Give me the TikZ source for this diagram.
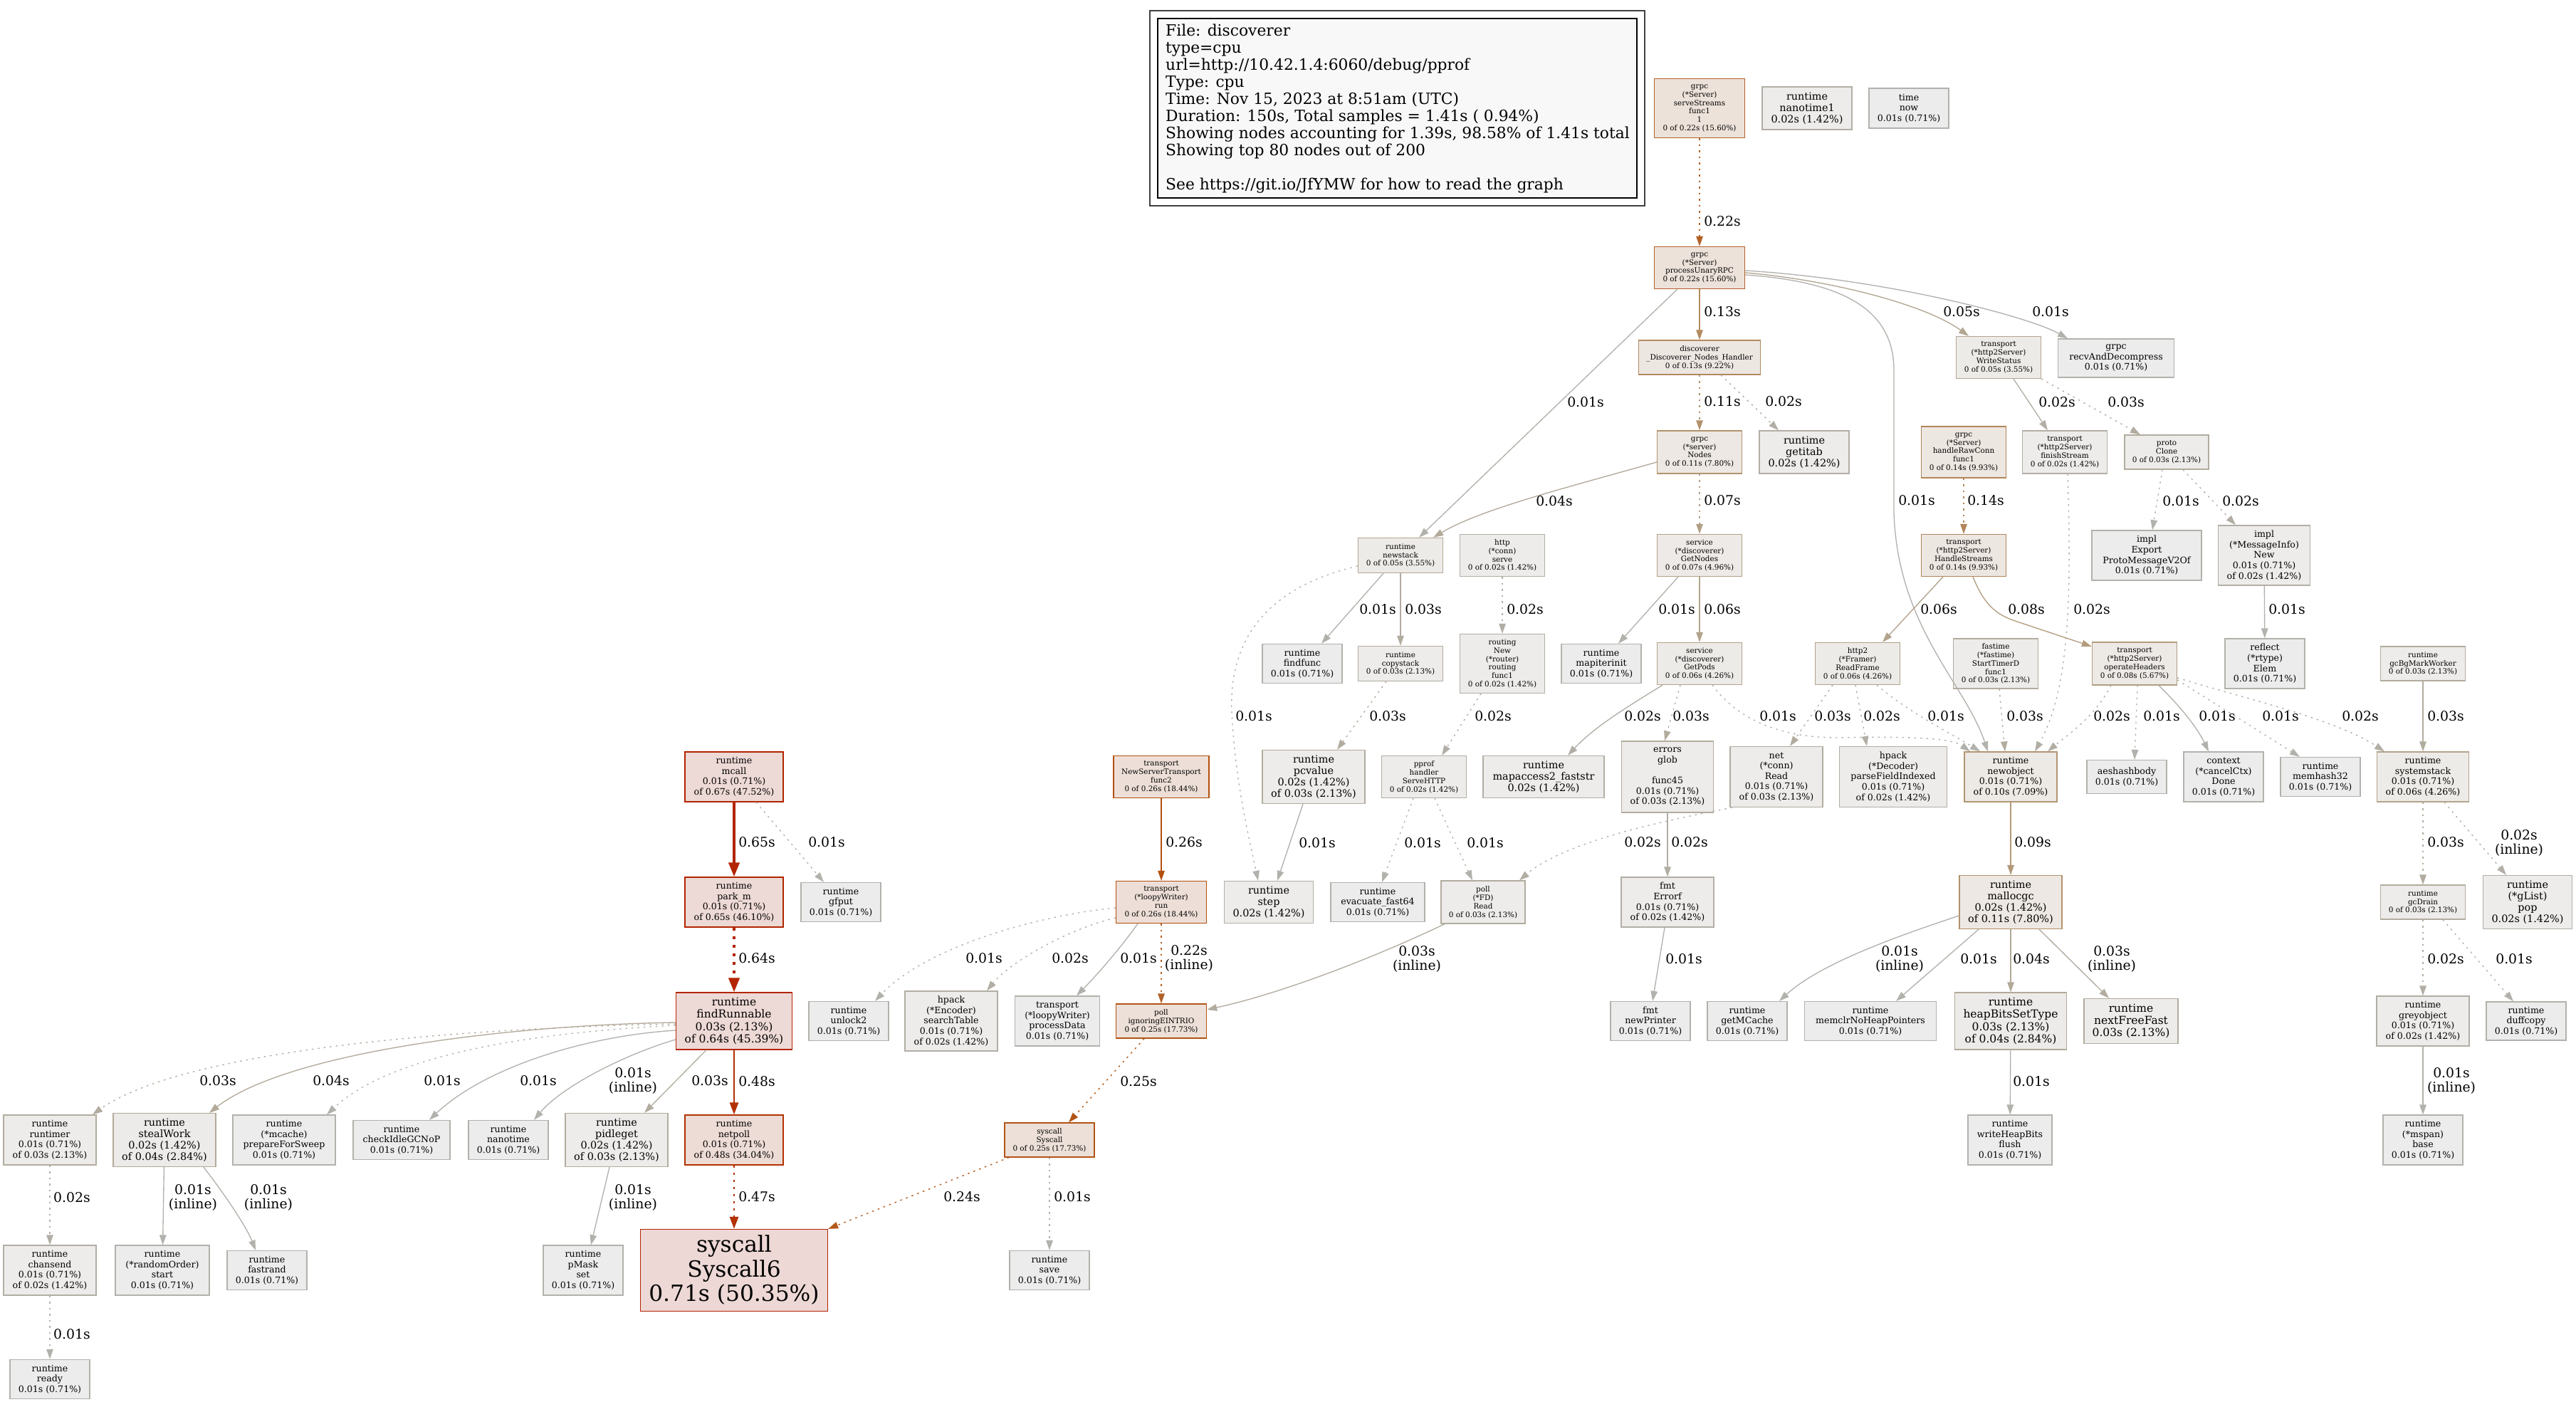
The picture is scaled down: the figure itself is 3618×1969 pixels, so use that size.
\documentclass[tikz,border=0pt]{standalone}
\usepackage{fontspec}
\setmainfont{DejaVu Serif}
\usetikzlibrary{arrows.meta}
% edge / border colours
\definecolor{c01}{HTML}{B2B1AC}\definecolor{c02}{HTML}{B2AEA5}\definecolor{c03}{HTML}{B2AC9F}
\definecolor{c04}{HTML}{B2A999}\definecolor{c05}{HTML}{B2A692}\definecolor{c06}{HTML}{B2A38C}
\definecolor{c07}{HTML}{B2A086}\definecolor{c08}{HTML}{B29D7F}\definecolor{c09}{HTML}{B29979}
\definecolor{c10}{HTML}{B29573}\definecolor{c11}{HTML}{B2926C}\definecolor{c13}{HTML}{B28A60}
\definecolor{c14}{HTML}{B28659}\definecolor{c22}{HTML}{B26227}\definecolor{c24}{HTML}{B2591A}
\definecolor{c25}{HTML}{B25414}\definecolor{c26}{HTML}{B24F0D}\definecolor{c47}{HTML}{B23200}
\definecolor{c48}{HTML}{B23100}\definecolor{c64}{HTML}{B22500}\definecolor{c65}{HTML}{B22400}
\definecolor{c67}{HTML}{B22300}\definecolor{c71}{HTML}{B22100}
% fill colours
\definecolor{f01}{HTML}{EDECEC}\definecolor{f02}{HTML}{EDECEB}\definecolor{f03}{HTML}{EDECEA}
\definecolor{f04}{HTML}{EDEBE9}\definecolor{f05}{HTML}{EDEBE8}\definecolor{f06}{HTML}{EDEBE8}
\definecolor{f07}{HTML}{EDEAE7}\definecolor{f08}{HTML}{EDEAE6}\definecolor{f10}{HTML}{EDE9E4}
\definecolor{f11}{HTML}{EDE8E3}\definecolor{f13}{HTML}{EDE7E2}\definecolor{f14}{HTML}{EDE7E1}
\definecolor{f22}{HTML}{EDE2DA}\definecolor{f25}{HTML}{EDE0D8}\definecolor{f26}{HTML}{EDDFD7}
\definecolor{f48}{HTML}{EDDBD5}\definecolor{f64}{HTML}{EDD9D5}\definecolor{f71}{HTML}{EDD8D5}
\definecolor{legfill}{HTML}{F8F8F8}
\tikzset{
  nd/.style={draw, rectangle, inner sep=0pt, align=center, line width=1.3pt},
  sz/.style 2 args={minimum width=#1pt, minimum height=#2pt},
  k01/.style={draw=c01, fill=f01}, k02/.style={draw=c02, fill=f02},
  k03/.style={draw=c03, fill=f03}, k04/.style={draw=c04, fill=f04},
  k05/.style={draw=c05, fill=f05}, k06/.style={draw=c06, fill=f06},
  k07/.style={draw=c07, fill=f07}, k08/.style={draw=c08, fill=f08},
  k10/.style={draw=c10, fill=f10}, k11/.style={draw=c11, fill=f11},
  k13/.style={draw=c13, fill=f13}, k14/.style={draw=c14, fill=f14},
  k22/.style={draw=c22, fill=f22}, k25/.style={draw=c25, fill=f25},
  k26/.style={draw=c26, fill=f26}, k48/.style={draw=c48, fill=f48},
  k64/.style={draw=c64, fill=f64}, k65/.style={draw=c65, fill=f64},
  k67/.style={draw=c67, fill=f64}, k71/.style={draw=c71, fill=f71},
  fs0/.style={font=\fontsize{10.4}{11.9}\selectfont},
  fs1/.style={font=\fontsize{12.6}{14.6}\selectfont},
  fs2/.style={font=\fontsize{14.4}{16.1}\selectfont},
  fs3/.style={font=\fontsize{15.5}{17.3}\selectfont},
  fsB/.style={font=\fontsize{31.3}{34.5}\selectfont},
  ed/.style={line width=1.33pt, -{Triangle[length=14pt,width=9.5pt]}},
  e2/.style={line width=2.67pt, -{Triangle[length=17pt,width=12pt]}},
  e3/.style={line width=4pt, -{Triangle[length=20pt,width=15pt]}},
  dotl/.style={dash pattern=on 2.5pt off 6pt},
  dotl2/.style={dash pattern=on 3pt off 7pt},
  dotb/.style={dash pattern=on 4pt off 8pt},
  elab/.style={font=\fontsize{18.8}{20.5}\selectfont, text=black, inner sep=0pt, align=center},
  legl/.style={font=\fontsize{21.8}{24}\selectfont, anchor=base west, inner sep=0pt}
}
\begin{document}
\begin{tikzpicture}[x=1pt, y=-1pt]
\fill[white] (0,0) rectangle (3618,1969);
\useasboundingbox (0,0) rectangle (3618,1969);
% legend
\draw[line width=1.3pt, black!75] (1615,15) rectangle (2310,289);
\draw[line width=1.3pt, black, fill=legfill] (1626,26) rectangle (2299,278);
\node[legl] (lg1) at (1637,50.5) {File: discoverer};
\node[legl] (lg2) at (1637,74.5) {type=cpu};
\node[legl] (lg3) at (1637,98.5) {url=http://10.42.1.4:6060/debug/pprof};
\node[legl] (lg4) at (1637,122.5) {Type: cpu};
\node[legl] (lg5) at (1637,146.5) {Time: Nov 15, 2023 at 8:51am (UTC)};
\node[legl] (lg6) at (1637,170.5) {Duration: 150s, Total samples = 1.41s ( 0.94\%)};
\node[legl] (lg7) at (1637,194.5) {Showing nodes accounting for 1.39s, 98.58\% of 1.41s total};
\node[legl] (lg8) at (1637,218.5) {Showing top 80 nodes out of 200};
\node[legl] (lg9) at (1637,266.5) {See https://git.io/JfYMW for how to read the graph};
% nodes
\node[nd,k22,fs0,sz={127}{83}] (ss) at (2387,152) {grpc\\(*Server)\\serveStreams\\func1\\1\\0 of 0.22s (15.60\%)};
\node[nd,k02,fs2,sz={126}{60}] (nt1) at (2538,152) {runtime\\nanotime1\\0.02s (1.42\%)};
\node[nd,k01,fs1,sz={112}{56}] (tnow) at (2681,152) {time\\now\\0.01s (0.71\%)};
\node[nd,k22,fs0,sz={127}{59}] (pu) at (2387,376) {grpc\\(*Server)\\processUnaryRPC\\0 of 0.22s (15.60\%)};
\node[nd,k13,fs0,sz={171}{48}] (dh) at (2387,502) {discoverer\\\_Discoverer\_Nodes\_Handler\\0 of 0.13s (9.22\%)};
\node[nd,k11,fs0,sz={119}{60}] (gn) at (2387,635) {grpc\\(*server)\\Nodes\\0 of 0.11s (7.80\%)};
\node[nd,k02,fs2,sz={126}{60}] (gi) at (2534,635) {runtime\\getitab\\0.02s (1.42\%)};
\node[nd,k05,fs0,sz={119}{59}] (ws) at (2807,502) {transport\\(*http2Server)\\WriteStatus\\0 of 0.05s (3.55\%)};
\node[nd,k01,fs1,sz={163}{54}] (rd) at (2972,503) {grpc\\recvAndDecompress\\0.01s (0.71\%)};
\node[nd,k14,fs0,sz={119}{72}] (hrc) at (2758,635) {grpc\\(*Server)\\handleRawConn\\func1\\0 of 0.14s (9.93\%)};
\node[nd,k02,fs0,sz={119}{60}] (fs) at (2900,635) {transport\\(*http2Server)\\finishStream\\0 of 0.02s (1.42\%)};
\node[nd,k03,fs0,sz={118}{48}] (pc) at (3043,635) {proto\\Clone\\0 of 0.03s (2.13\%)};
\node[nd,k01,fs1,sz={154}{70}] (ie) at (3015,780) {impl\\Export\\ProtoMessageV2Of\\0.01s (0.71\%)};
\node[nd,k02,fs1,sz={129}{84}] (imn) at (3180,780) {impl\\(*MessageInfo)\\New\\0.01s (0.71\%)\\of 0.02s (1.42\%)};
\node[nd,k01,fs1,sz={112}{70}] (re) at (3181,932) {reflect\\(*rtype)\\Elem\\0.01s (0.71\%)};
\node[nd,k03,fs0,sz={119}{48}] (gbm) at (3403,932) {runtime\\gcBgMarkWorker\\0 of 0.03s (2.13\%)};
\node[nd,k08,fs0,sz={119}{60}] (oh) at (2998,932) {transport\\(*http2Server)\\operateHeaders\\0 of 0.08s (5.67\%)};
\node[nd,k05,fs0,sz={119}{49}] (ns) at (1967,780) {runtime\\newstack\\0 of 0.05s (3.55\%)};
\node[nd,k02,fs0,sz={119}{59}] (hs) at (2110,780) {http\\(*conn)\\serve\\0 of 0.02s (1.42\%)};
\node[nd,k07,fs0,sz={119}{59}] (gnd) at (2387,780) {service\\(*discoverer)\\GetNodes\\0 of 0.07s (4.96\%)};
\node[nd,k14,fs0,sz={119}{59}] (hst) at (2758,780) {transport\\(*http2Server)\\HandleStreams\\0 of 0.14s (9.93\%)};
\node[nd,k01,fs1,sz={112}{55}] (ff) at (1829,932) {runtime\\findfunc\\0.01s (0.71\%)};
\node[nd,k03,fs0,sz={119}{49}] (cs) at (1967,932) {runtime\\copystack\\0 of 0.03s (2.13\%)};
\node[nd,k02,fs0,sz={119}{83}] (rt) at (2110,932) {routing\\New\\(*router)\\routing\\func1\\0 of 0.02s (1.42\%)};
\node[nd,k01,fs1,sz={112}{55}] (mi) at (2249,932) {runtime\\mapiterinit\\0.01s (0.71\%)};
\node[nd,k06,fs0,sz={119}{59}] (gp) at (2387,932) {service\\(*discoverer)\\GetPods\\0 of 0.06s (4.26\%)};
\node[nd,k06,fs0,sz={119}{59}] (rf) at (2609,932) {http2\\(*Framer)\\ReadFrame\\0 of 0.06s (4.26\%)};
\node[nd,k03,fs0,sz={119}{70}] (ft) at (2803,932) {fastime\\(*fastime)\\StartTimerD\\func1\\0 of 0.03s (2.13\%)};
\node[nd,k03,fs2,sz={144}{75}] (pcv) at (1845,1091) {runtime\\pcvalue\\0.02s (1.42\%)\\of 0.03s (2.13\%)};
\node[nd,k02,fs0,sz={119}{59}] (pp) at (2000,1091) {pprof\\handler\\ServeHTTP\\0 of 0.02s (1.42\%)};
\node[nd,k02,fs2,sz={170}{59}] (ma) at (2168,1091) {runtime\\mapaccess2\_faststr\\0.02s (1.42\%)};
\node[nd,k03,fs1,sz={129}{100}] (eg) at (2342,1091) {errors\\glob\\\mbox{}\\func45\\0.01s (0.71\%)\\of 0.03s (2.13\%)};
\node[nd,k03,fs1,sz={130}{85}] (nr) at (2495,1091) {net\\(*conn)\\Read\\0.01s (0.71\%)\\of 0.03s (2.13\%)};
\node[nd,k02,fs1,sz={151}{85}] (hp) at (2659,1091) {hpack\\(*Decoder)\\parseFieldIndexed\\0.01s (0.71\%)\\of 0.02s (1.42\%)};
\node[nd,k10,fs1,sz={130}{70}] (no) at (2824,1091) {runtime\\newobject\\0.01s (0.71\%)\\of 0.10s (7.09\%)};
\node[nd,k01,fs1,sz={112}{47}] (ah) at (2987,1091) {aeshashbody\\0.01s (0.71\%)};
\node[nd,k01,fs1,sz={112}{70}] (cd) at (3123,1091) {context\\(*cancelCtx)\\Done\\0.01s (0.71\%)};
\node[nd,k01,fs1,sz={112}{55}] (mh) at (3259,1091) {runtime\\memhash32\\0.01s (0.71\%)};
\node[nd,k06,fs1,sz={129}{70}] (sst) at (3403,1091) {runtime\\systemstack\\0.01s (0.71\%)\\of 0.06s (4.26\%)};
\node[nd,k67,fs1,sz={138}{70}] (mc) at (1031,1091) {runtime\\mcall\\0.01s (0.71\%)\\of 0.67s (47.52\%)};
\node[nd,k26,fs0,sz={134}{59}] (nst) at (1631,1091) {transport\\NewServerTransport\\func2\\0 of 0.26s (18.44\%)};
\node[nd,k65,fs1,sz={138}{70}] (pm) at (1031,1267) {runtime\\park\_m\\0.01s (0.71\%)\\of 0.65s (46.10\%)};
\node[nd,k01,fs1,sz={112}{55}] (gf) at (1181,1267) {runtime\\gfput\\0.01s (0.71\%)};
\node[nd,k26,fs0,sz={127}{59}] (lr) at (1631,1267) {transport\\(*loopyWriter)\\run\\0 of 0.26s (18.44\%)};
\node[nd,k02,fs2,sz={125}{59}] (st) at (1782,1267) {runtime\\step\\0.02s (1.42\%)};
\node[nd,k01,fs1,sz={132}{55}] (ev) at (1935,1267) {runtime\\evacuate\_fast64\\0.01s (0.71\%)};
\node[nd,k03,fs0,sz={118}{60}] (pr) at (2083,1267) {poll\\(*FD)\\Read\\0 of 0.03s (2.13\%)};
\node[nd,k02,fs1,sz={130}{70}] (fe) at (2342,1267) {fmt\\Errorf\\0.01s (0.71\%)\\of 0.02s (1.42\%)};
\node[nd,k11,fs2,sz={144}{75}] (mg) at (2824,1267) {runtime\\mallocgc\\0.02s (1.42\%)\\of 0.11s (7.80\%)};
\node[nd,k03,fs0,sz={119}{48}] (gd) at (3403,1267) {runtime\\gcDrain\\0 of 0.03s (2.13\%)};
\node[nd,k02,fs2,sz={125}{75}] (gl) at (3550,1267) {runtime\\(*gList)\\pop\\0.02s (1.42\%)};
\node[nd,k64,fs3,sz={163}{80}] (fr) at (1031,1434) {runtime\\findRunnable\\0.03s (2.13\%)\\of 0.64s (45.39\%)};
\node[nd,k01,fs1,sz={112}{55}] (ul) at (1192,1434) {runtime\\unlock2\\0.01s (0.71\%)};
\node[nd,k02,fs1,sz={130}{84}] (hst2) at (1336,1434) {hpack\\(*Encoder)\\searchTable\\0.01s (0.71\%)\\of 0.02s (1.42\%)};
\node[nd,k01,fs1,sz={119}{70}] (pd) at (1485,1434) {transport\\(*loopyWriter)\\processData\\0.01s (0.71\%)};
\node[nd,k25,fs0,sz={127}{48}] (ei) at (1631,1434) {poll\\ignoringEINTRIO\\0 of 0.25s (17.73\%)};
\node[nd,k01,fs1,sz={112}{55}] (np) at (2318,1434) {fmt\\newPrinter\\0.01s (0.71\%)};
\node[nd,k01,fs1,sz={112}{55}] (gm) at (2454,1434) {runtime\\getMCache\\0.01s (0.71\%)};
\node[nd,k01,fs1,sz={185}{55}] (mc2) at (2627,1434) {runtime\\memclrNoHeapPointers\\0.01s (0.71\%)};
\node[nd,k04,fs3,sz={157}{80}] (hb) at (2824,1434) {runtime\\heapBitsSetType\\0.03s (2.13\%)\\of 0.04s (2.84\%)};
\node[nd,k03,fs3,sz={132}{63}] (nff) at (2993,1434) {runtime\\nextFreeFast\\0.03s (2.13\%)};
\node[nd,k02,fs1,sz={130}{70}] (go) at (3403,1434) {runtime\\greyobject\\0.01s (0.71\%)\\of 0.02s (1.42\%)};
\node[nd,k01,fs1,sz={112}{54}] (dc) at (3548,1434) {runtime\\duffcopy\\0.01s (0.71\%)};
\node[nd,k03,fs1,sz={130}{70}] (rtm) at (70,1601) {runtime\\runtimer\\0.01s (0.71\%)\\of 0.03s (2.13\%)};
\node[nd,k04,fs2,sz={144}{75}] (sw) at (231,1601) {runtime\\stealWork\\0.02s (1.42\%)\\of 0.04s (2.84\%)};
\node[nd,k01,fs1,sz={144}{70}] (pfs) at (399,1601) {runtime\\(*mcache)\\prepareForSweep\\0.01s (0.71\%)};
\node[nd,k01,fs1,sz={136}{55}] (cig) at (564,1601) {runtime\\checkIdleGCNoP\\0.01s (0.71\%)};
\node[nd,k01,fs1,sz={112}{55}] (nt) at (714,1601) {runtime\\nanotime\\0.01s (0.71\%)};
\node[nd,k03,fs2,sz={144}{75}] (pg) at (866,1601) {runtime\\pidleget\\0.02s (1.42\%)\\of 0.03s (2.13\%)};
\node[nd,k48,fs1,sz={138}{70}] (npl) at (1031,1601) {runtime\\netpoll\\0.01s (0.71\%)\\of 0.48s (34.04\%)};
\node[nd,k25,fs0,sz={126}{48}] (sc) at (1474,1601) {syscall\\Syscall\\0 of 0.25s (17.73\%)};
\node[nd,k01,fs1,sz={118}{70}] (whb) at (2823,1601) {runtime\\writeHeapBits\\flush\\0.01s (0.71\%)};
\node[nd,k01,fs1,sz={112}{70}] (mb) at (3403,1601) {runtime\\(*mspan)\\base\\0.01s (0.71\%)};
\node[nd,k02,fs1,sz={130}{70}] (chs) at (70,1784) {runtime\\chansend\\0.01s (0.71\%)\\of 0.02s (1.42\%)};
\node[nd,k01,fs1,sz={132}{70}] (ro) at (228,1784) {runtime\\(*randomOrder)\\start\\0.01s (0.71\%)};
\node[nd,k01,fs1,sz={112}{55}] (fr2) at (375,1784) {runtime\\fastrand\\0.01s (0.71\%)};
\node[nd,k01,fs1,sz={112}{70}] (pms) at (819,1784) {runtime\\pMask\\set\\0.01s (0.71\%)};
\node[nd,k71,fsB,sz={263}{115}] (s6) at (1031,1784) {syscall\\Syscall6\\0.71s (50.35\%)};
\node[nd,k01,fs1,sz={112}{55}] (sv) at (1474,1784) {runtime\\save\\0.01s (0.71\%)};
\node[nd,k01,fs1,sz={112}{55}] (rdy) at (70,1937) {runtime\\ready\\0.01s (0.71\%)};
% edges
\draw[ed,c22,dotl] (ss) -- (pu) node[elab] (l1) at (2419,311) {0.22s};
\draw[ed,c13] (pu) -- (dh) node[elab] (l2) at (2419,438) {0.13s};
\draw[ed,c01] (pu) -- (ns) node[elab] (l3) at (2227,565) {0.01s};
\draw[ed,c05] ([yshift=-7pt]pu.east) .. controls (2560,392) and (2700,425) .. ([xshift=-42pt]ws.north) node[elab] (l4) at (2755,438) {0.05s};
\draw[ed,c01] ([yshift=-4pt]pu.east) .. controls (2650,392) and (2850,445) .. ([xshift=-68pt]rd.north) node[elab] (l5) at (2880,438) {0.01s};
\draw[ed,c01] ([yshift=-10pt]pu.east) .. controls (2580,395) and (2660,430) .. (2660,520) -- (2660,720) .. controls (2665,880) and (2760,960) .. ([xshift=-32pt]no.north) node[elab] (l6) at (2692,703) {0.01s};
\draw[ed,c11,dotl] (dh) -- (gn) node[elab] (l7) at (2419,564) {0.11s};
\draw[ed,c02,dotl] ([xshift=30pt]dh.south) -- ([xshift=-36pt]gi.north) node[elab] (l8) at (2505,564) {0.02s};
\draw[ed,c04] ([yshift=-14pt]gn.west) .. controls (2200,685) and (2080,715) .. ([xshift=46pt]ns.north) node[elab] (l9) at (2183,704) {0.04s};
\draw[ed,c07,dotl] (gn) -- (gnd) node[elab] (l10) at (2419,703) {0.07s};
\draw[ed,c02] ([xshift=21pt]ws.south) -- ([xshift=-24pt]fs.north) node[elab] (l11) at (2889,565) {0.02s};
\draw[ed,c03,dotl] (ws.south east) -- ([xshift=-37pt]pc.north) node[elab] (l12) at (2986,565) {0.03s};
\draw[ed,c02,dotl] ([xshift=4pt]fs.south) .. controls (2910,850) and (2905,970) .. ([xshift=34pt]no.north) node[elab] (l13) at (2938,856) {0.02s};
\draw[ed,c01,dotl] ([xshift=-6pt]pc.south) -- ([xshift=8pt]ie.north) node[elab] (l14) at (3063,704) {0.01s};
\draw[ed,c02,dotl] ([xshift=23pt]pc.south) -- ([xshift=-40pt]imn.north) node[elab] (l15) at (3147,704) {0.02s};
\draw[ed,c01] (imn) -- (re) node[elab] (l16) at (3212,856) {0.01s};
\draw[ed,c14,dotl] (hrc) -- (hst) node[elab] (l17) at (2789,703) {0.14s};
\draw[ed,c06] ([xshift=-29pt]hst.south) -- ([xshift=35pt]rf.north) node[elab] (l18) at (2723,856) {0.06s};
\draw[ed,c08] ([xshift=13pt]hst.south) .. controls (2785,845) and (2800,862) .. (2830,872) -- ([yshift=24pt]oh.west) node[elab] (l19) at (2846,856) {0.08s};
\draw[ed,c01] ([xshift=-30pt]gnd.south) -- ([xshift=24pt]mi.north) node[elab] (l20) at (2355,856) {0.01s};
\draw[ed,c06] (gnd) -- (gp) node[elab] (l21) at (2419,856) {0.06s};
\draw[ed,c01] ([xshift=-24pt]ns.south) -- ([xshift=27pt]ff.north) node[elab] (l22) at (1935,856) {0.01s};
\draw[ed,c03] (ns) -- (cs) node[elab] (l23) at (1999,856) {0.03s};
\draw[ed,c01,dotl] ([yshift=-15pt]ns.west) .. controls (1800,820) and (1725,880) .. (1730,1000) .. controls (1735,1100) and (1755,1180) .. ([xshift=-15pt]st.north) node[elab] (l24) at (1761,1006) {0.01s};
\draw[ed,c02,dotl] (hs) -- (rt) node[elab] (l25) at (2142,856) {0.02s};
\draw[ed,c03,dotl] ([xshift=-20pt]cs.south) -- ([xshift=33pt]pcv.north) node[elab] (l26) at (1949,1006) {0.03s};
\draw[ed,c02,dotl] ([xshift=-30pt]rt.south) -- ([xshift=25pt]pp.north) node[elab] (l27) at (2097,1006) {0.02s};
\draw[ed,c02] ([xshift=-52pt]gp.south) .. controls (2290,990) and (2240,1020) .. ([xshift=34pt]ma.north) node[elab] (l28) at (2307,1006) {0.02s};
\draw[ed,c03,dotl] ([xshift=-27pt]gp.south) -- ([xshift=-4pt]eg.north) node[elab] (l29) at (2375,1006) {0.03s};
\draw[ed,c01,dotl] ([xshift=18pt]gp.south) .. controls (2440,1010) and (2500,1036) .. (2580,1036) .. controls (2680,1034) and (2740,1036) .. ([xshift=-57pt]no.north) node[elab] (l30) at (2497,1006) {0.01s};
\draw[ed,c03,dotl] ([xshift=-35pt]rf.south) -- ([xshift=19pt]nr.north) node[elab] (l31) at (2574,1006) {0.03s};
\draw[ed,c02,dotl] ([xshift=-3pt]rf.south) -- ([xshift=-37pt]hp.north) node[elab] (l32) at (2643,1006) {0.02s};
\draw[ed,c01,dotl] ([xshift=27pt]rf.south) .. controls (2680,1000) and (2740,1030) .. ([xshift=-43pt]no.north) node[elab] (l33) at (2733,1006) {0.01s};
\draw[ed,c03,dotl] ([xshift=5pt]ft.south) -- ([xshift=-8pt]no.north) node[elab] (l34) at (2844,1006) {0.03s};
\draw[ed,c02,dotl] ([xshift=-33pt]oh.south) .. controls (2940,1010) and (2900,1035) .. ([xshift=52pt]no.north) node[elab] (l35) at (2966,1006) {0.02s};
\draw[ed,c01,dotl] ([xshift=4pt]oh.south) -- ([xshift=11pt]ah.north) node[elab] (l36) at (3036,1006) {0.01s};
\draw[ed,c01] ([xshift=34pt]oh.south) .. controls (3060,990) and (3085,1020) .. ([xshift=-21pt]cd.north) node[elab] (l37) at (3114,1006) {0.01s};
\draw[ed,c01,dotl] ([yshift=-23pt]oh.east) -- ([xshift=-29pt]mh.north) node[elab] (l38) at (3203,1006) {0.01s};
\draw[ed,c02,dotl] ([yshift=-20pt]oh.east) .. controls (3150,980) and (3280,1010) .. ([xshift=-54pt]sst.north) node[elab] (l39) at (3315,1006) {0.02s};
\draw[ed,c03] (gbm) -- (sst) node[elab] (l40) at (3435,1006) {0.03s};
\draw[ed,c02,dotl] ([xshift=-62pt]nr.south) .. controls (2350,1150) and (2200,1180) .. ([xshift=51pt]pr.north) node[elab] (l41) at (2307,1183) {0.02s};
\draw[ed,c02] (eg) -- (fe) node[elab] (l42) at (2373,1183) {0.02s};
\draw[ed,c09] (no) -- (mg) node[elab] (l43) at (2855,1183) {0.09s};
\draw[ed,c01,dotl] ([xshift=-15pt]pp.south) -- ([xshift=6pt]ev.north) node[elab] (l44) at (1998,1184) {0.01s};
\draw[ed,c01,dotl] ([xshift=15pt]pp.south) -- ([xshift=-15pt]pr.north) node[elab] (l45) at (2086,1184) {0.01s};
\draw[ed,c01] ([xshift=-15pt]pcv.south) -- ([xshift=12pt]st.north) node[elab] (l46) at (1850,1184) {0.01s};
\draw[ed,c01] ([xshift=-4pt]fe.south) -- ([xshift=3pt]np.north) node[elab] (l47) at (2365,1347) {0.01s};
\draw[ed,c01] ([yshift=-19pt]mg.west) .. controls (2680,1310) and (2560,1350) .. ([xshift=45pt]gm.north) node[elab] (l48) at (2668,1347) {0.01s\\(inline)};
\draw[ed,c01] ([xshift=-45pt]mg.south) -- ([xshift=36pt]mc2.north) node[elab] (l49) at (2779,1347) {0.01s};
\draw[ed,c04] (mg) -- (hb) node[elab] (l50) at (2853,1347) {0.04s};
\draw[ed,c03] ([xshift=40pt]mg.south) -- ([xshift=-31pt]nff.north) node[elab] (l51) at (2966,1347) {0.03s\\(inline)};
\draw[ed,c01] (hb) -- (whb) node[elab] (l52) at (2853,1519) {0.01s};
\draw[ed,c03] ([xshift=-54pt]pr.south) .. controls (1930,1345) and (1800,1395) .. ([yshift=16pt]ei.east) node[elab] (l53) at (1990,1347) {0.03s\\(inline)};
\draw[ed,c03,dotl] (sst) -- (gd) node[elab] (l54) at (3435,1183) {0.03s};
\draw[ed,c02,dotl] ([xshift=30pt]sst.south) -- ([xshift=-30pt]gl.north) node[elab] (l55) at (3538,1184) {0.02s\\(inline)};
\draw[ed,c02,dotl] (gd) -- (go) node[elab] (l56) at (3435,1347) {0.02s};
\draw[ed,c01,dotl] ([xshift=28pt]gd.south) -- ([xshift=-18pt]dc.north) node[elab] (l57) at (3531,1347) {0.01s};
\draw[ed,c01] (go) -- (mb) node[elab] (l58) at (3443,1518) {0.01s\\(inline)};
\draw[e3,c65] (mc) -- (pm) node[elab] (l59) at (1063,1183) {0.65s};
\draw[ed,c01,dotl] ([xshift=31pt]mc.south) -- ([xshift=-24pt]gf.north) node[elab] (l60) at (1161,1183) {0.01s};
\draw[ed,c26] (nst) -- (lr) node[elab] (l61) at (1663,1183) {0.26s};
\draw[e3,c64,dotb] (pm) -- (fr) node[elab] (l62) at (1063,1346) {0.64s};
\draw[ed,c01,dotl] ([yshift=-8pt]lr.west) .. controls (1460,1285) and (1300,1330) .. ([xshift=37pt]ul.north) node[elab] (l63) at (1382,1346) {0.01s};
\draw[ed,c02,dotl] ([yshift=-22pt]lr.west) .. controls (1500,1305) and (1420,1350) .. ([xshift=50pt]hst2.north) node[elab] (l64) at (1503,1346) {0.02s};
\draw[ed,c01] ([xshift=-33pt]lr.south) .. controls (1575,1330) and (1540,1370) .. ([xshift=27pt]pd.north) node[elab] (l65) at (1599,1346) {0.01s};
\draw[ed,c22,dotl] (lr) -- (ei) node[elab] (l66) at (1670,1346) {0.22s\\(inline)};
\draw[ed,c25,dotl] ([xshift=-24pt]ei.south) -- ([xshift=27pt]sc.north) node[elab] (l67) at (1599,1519) {0.25s};
\draw[e2,c48] (fr) -- (npl) node[elab] (l68) at (1063,1519) {0.48s};
\draw[e2,c47,dotl2] (npl) -- (s6) node[elab] (l69) at (1063,1681) {0.47s};
\draw[ed,c24,dotl] ([xshift=-57pt]sc.south) -- (s6.north east) node[elab] (l70) at (1351,1681) {0.24s};
\draw[ed,c01,dotl] (sc) -- (sv) node[elab] (l71) at (1506,1681) {0.01s};
\draw[ed,c03] ([xshift=-39pt]fr.south) -- ([xshift=39pt]pg.north) node[elab] (l72) at (997,1518) {0.03s};
\draw[ed,c03,dotl] ([yshift=-4pt]fr.west) .. controls (600,1445) and (250,1480) .. ([xshift=60pt]rtm.north) node[elab] (l73) at (306,1518) {0.03s};
\draw[ed,c04] ([yshift=-2pt]fr.west) .. controls (700,1440) and (400,1480) .. ([xshift=63pt]sw.north) node[elab] (l74) at (465,1518) {0.04s};
\draw[ed,c01,dotl] ([yshift=-6pt]fr.west) .. controls (750,1450) and (550,1480) .. ([xshift=60pt]pfs.north) node[elab] (l75) at (621,1518) {0.01s};
\draw[ed,c01] ([yshift=-13pt]fr.west) .. controls (820,1455) and (680,1500) .. ([xshift=39pt]cig.north) node[elab] (l76) at (756,1518) {0.01s};
\draw[ed,c01] ([yshift=-26pt]fr.west) .. controls (880,1480) and (790,1525) .. ([xshift=36pt]nt.north) node[elab] (l77) at (889,1518) {0.01s\\(inline)};
\draw[ed,c02,dotl] (rtm) -- (chs) node[elab] (l78) at (101,1682) {0.02s};
\draw[ed,c01,dotl] (chs) -- (rdy) node[elab] (l79) at (101,1874) {0.01s};
\draw[ed,c01] (sw) -- (ro) node[elab] (l80) at (271,1682) {0.01s\\(inline)};
\draw[ed,c01] ([xshift=55pt]sw.south) .. controls (310,1670) and (345,1720) .. ([xshift=-16pt]fr2.north) node[elab] (l81) at (377,1682) {0.01s\\(inline)};
\draw[ed,c01] ([xshift=-10pt]pg.south) -- ([xshift=11pt]pms.north) node[elab] (l82) at (889,1682) {0.01s\\(inline)};
\end{tikzpicture}
\end{document}
